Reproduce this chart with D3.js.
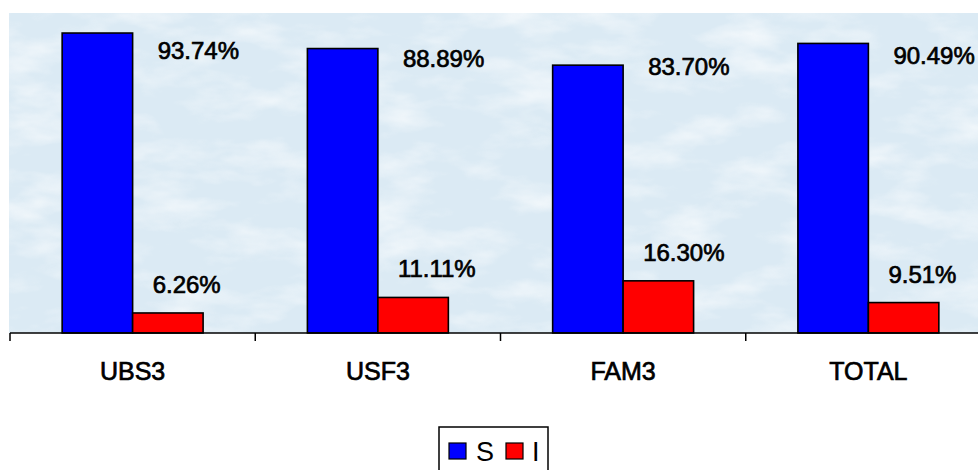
<!DOCTYPE html>
<html>
<head>
<meta charset="utf-8">
<script src="https://cdn.jsdelivr.net/npm/d3@7"></script>
<style>
  html, body { margin: 0; padding: 0; background: #fff; }
  svg { display: block; font-family: Arial, "Liberation Sans", sans-serif; }
</style>
</head>
<body>
<svg id="chart" width="978" height="470"></svg>
<script>
// Share of responses per site
const categories = ["UBS3", "USF3", "FAM3", "TOTAL"];
const seriesNames = ["S", "I"];
const valuesS = [93.74, 88.89, 83.70, 90.49];
const valuesI = [6.26, 11.11, 16.30, 9.51];
const seriesColors = ["#0000ff", "#ff0000"];
const yDomain = [0, 100];

const svg = d3.select("#chart");
const W = 978, H = 470;
const plot = { left: 9, right: 991, top: 13, bottom: 333 };

// Mottled light-blue backdrop of the plot area
const defs = svg.append("defs");
const f = defs.append("filter").attr("id", "mottle")
  .attr("x", 0).attr("y", 0).attr("width", 1).attr("height", 1);
f.append("feTurbulence").attr("type", "fractalNoise")
  .attr("baseFrequency", "0.014 0.035").attr("numOctaves", 4).attr("seed", 7).attr("result", "n");
f.append("feColorMatrix").attr("in", "n").attr("type", "matrix")
  .attr("values", "0 0 0 0 1  0 0 0 0 1  0 0 0 0 1  1.8 0 0 0 -0.8").attr("result", "w");
f.append("feComposite").attr("in", "w").attr("in2", "SourceGraphic").attr("operator", "in");

svg.append("rect")
  .attr("x", plot.left).attr("y", plot.top)
  .attr("width", W - plot.left).attr("height", plot.bottom - plot.top)
  .attr("fill", "#dbeaf4");
svg.append("rect")
  .attr("x", plot.left).attr("y", plot.top)
  .attr("width", W - plot.left).attr("height", plot.bottom - plot.top)
  .attr("fill", "#ffffff").attr("opacity", 0.8)
  .attr("filter", "url(#mottle)");

// Scales
const x0 = d3.scaleBand().domain(categories).range([10, plot.right]).paddingInner(0).paddingOuter(0);
const x1 = d3.scaleBand().domain(seriesNames).range([0, x0.bandwidth()]).paddingInner(0).paddingOuter(0.74);
const y = d3.scaleLinear().domain(yDomain).range([plot.bottom, plot.top]);
const color = d3.scaleOrdinal().domain(seriesNames).range(seriesColors);

const rows = categories.map((c, i) => ({ cat: c, vals: [
  { key: "S", v: valuesS[i] }, { key: "I", v: valuesI[i] }
]}));

// Bars
const groups = svg.append("g").selectAll("g").data(rows).join("g")
  .attr("transform", d => `translate(${x0(d.cat)},0)`);

groups.selectAll("rect").data(d => d.vals).join("rect")
  .attr("x", d => x1(d.key))
  .attr("y", d => y(d.v))
  .attr("width", x1.bandwidth())
  .attr("height", d => y(0) - y(d.v))
  .attr("fill", d => color(d.key))
  .attr("stroke", "#000").attr("stroke-width", 1.6);

// Value labels: S labels eased toward the top of the plot, I labels above their bars
const labelY = d => d.key === "S" ? (y(d.v) + y(100)) / 2 + 36 : y(d.v) - 20;
groups.selectAll("text").data(d => d.vals).join("text")
  .attr("x", d => x1("I") + (d.key === "S" ? 25 : 20))
  .attr("y", labelY)
  .attr("text-anchor", "start")
  .attr("font-size", 24)
  .attr("fill", "#000").attr("stroke", "#000").attr("stroke-width", 0.7)
  .text(d => d.v.toFixed(2) + "%");

// Category axis
const ax = svg.append("g").attr("transform", `translate(0,${plot.bottom})`);
ax.append("line").attr("x1", 10).attr("x2", W).attr("y1", 0).attr("y2", 0)
  .attr("stroke", "#000").attr("stroke-width", 1.5);
ax.selectAll(".sep").data(categories).join("line").attr("class", "sep")
  .attr("x1", d => x0(d)).attr("x2", d => x0(d))
  .attr("y1", 0).attr("y2", 8).attr("stroke", "#000").attr("stroke-width", 1.5);
ax.selectAll(".cat").data(categories).join("text").attr("class", "cat")
  .attr("x", d => x0(d) + x0.bandwidth() / 2)
  .attr("y", 47)
  .attr("text-anchor", "middle")
  .attr("font-size", 25).attr("fill", "#000")
  .attr("stroke", "#000").attr("stroke-width", 0.7)
  .text(d => d);

// Legend
const lg = svg.append("g").attr("transform", "translate(439,427)");
lg.append("rect").attr("x", 0).attr("y", 0).attr("width", 109).attr("height", 60)
  .attr("fill", "#fff").attr("stroke", "#000").attr("stroke-width", 1.5);
const items = [{ k: "S", sx: 10, tx: 37 }, { k: "I", sx: 67, tx: 93 }];
items.forEach(it => {
  lg.append("rect").attr("x", it.sx).attr("y", 16).attr("width", 17).attr("height", 16)
    .attr("fill", color(it.k)).attr("stroke", "#000").attr("stroke-width", 1.2);
  lg.append("text").attr("x", it.tx).attr("y", 34).attr("font-size", 27)
    .attr("fill", "#000").text(it.k);
});
</script>
</body>
</html>
